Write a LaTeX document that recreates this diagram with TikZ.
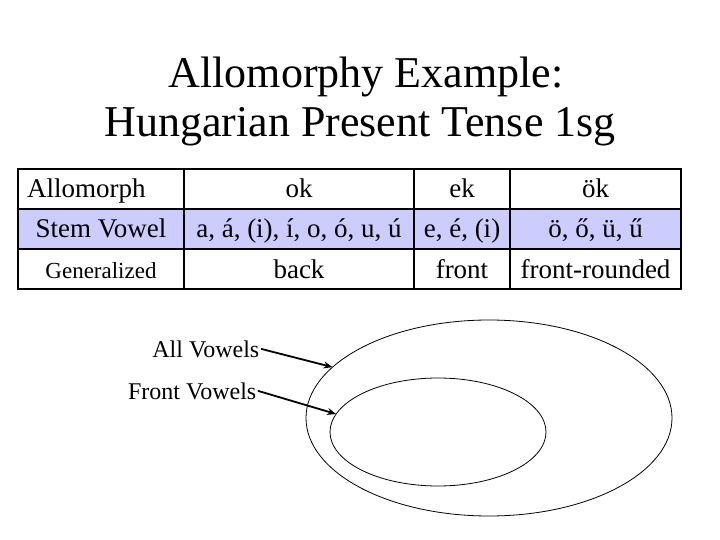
\documentclass[tikz,border=0pt]{standalone}
\usepackage{fontspec}
\setmainfont{Liberation Serif}
\usetikzlibrary{shapes.geometric,arrows.meta}
\definecolor{rowblue}{RGB}{204,204,255}
\begin{document}
\begin{tikzpicture}[x=1pt, y=-1pt,
  cell/.style={font=\fontsize{27}{30}\selectfont, inner sep=0pt, anchor=base},
  pointer/.style={line width=1.8pt, -{Stealth[length=9pt,width=7pt]}},
  vset/.style={draw, ellipse, line width=0.8pt, inner sep=0pt, outer sep=0pt}]
  \useasboundingbox (0,0) rectangle (720,540);
  %Title, two lines
  \node at (366,88) [anchor=base, font=\fontsize{44}{48}\selectfont, name=T1] {Allomorphy Example:};
  \node at (360,137) [anchor=base, font=\fontsize{44}{48}\selectfont, name=T2] {Hungarian Present Tense 1sg};
  % Table: shaded middle row, rules and frame
  \fill [rowblue] (18,209) rectangle (681,249);
  \draw [line width=1.6] (18,209) -- (681,209);
  \draw [line width=1.6] (18,249) -- (681,249);
  \draw [line width=2.2] (184,169) -- (184,289);
  \draw [line width=2.2] (414,169) -- (414,289);
  \draw [line width=1.6] (510,169) -- (510,289);
  \draw [line width=2.5] (18,169) rectangle (681,289);
  \node at (27,197) [cell, anchor=base west, name=hA] {Allomorph};
  \node at (299,197) [cell, name=hok] {ok};
  \node at (462,197) [cell, name=hek] {ek};
  \node at (595.5,197) [cell, name=hok2] {ök};
  \node at (101,237) [cell, name=sS] {Stem Vowel};
  \node at (299,237) [cell, name=sok] {a, á, (i), í, o, ó, u, ú};
  \node at (462,237) [cell, name=sek] {e, é, (i)};
  \node at (595.5,237) [cell, name=sok2] {ö, ő, ü, ű};
  \node at (101,278) [cell, font=\fontsize{23}{25}\selectfont, name=gG] {Generalized};
  \node at (299,278) [cell, name=gok] {back};
  \node at (462,278) [cell, name=gek] {front};
  \node at (595.5,278) [cell, name=gok2] {front-rounded};
  % Vowel sets
  \node at (489,418) [vset, minimum width=366, minimum height=196, name=allset] {};
  \node at (438,432) [vset, minimum width=216, minimum height=108, name=frontset] {};
  \node at (261,357) [anchor=base east, font=\fontsize{24}{26}\selectfont, inner sep=1.5pt, name=allv] {All Vowels};
  \node at (258,399) [anchor=base east, font=\fontsize{24}{26}\selectfont, inner sep=1.5pt, name=frontv] {Front Vowels};
  \draw [pointer] (allv.east) -- (allset.162);
  \draw [pointer] (frontv.east) -- (frontset.170);
\end{tikzpicture}
\end{document}
